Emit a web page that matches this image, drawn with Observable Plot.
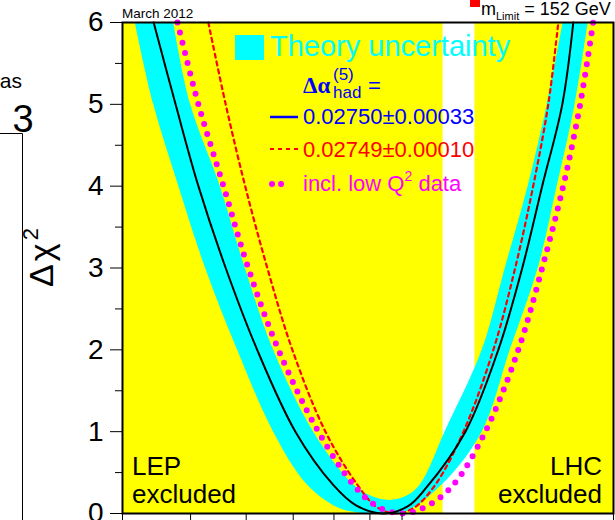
<!DOCTYPE html>
<html>
<head>
<meta charset="utf-8">
<script src="https://cdn.jsdelivr.net/npm/d3@7"></script>
<script src="https://cdn.jsdelivr.net/npm/@observablehq/plot@0.6"></script>
<style>
  html, body { margin: 0; padding: 0; overflow: hidden; background: #fff; }
  #wrap { position: relative; width: 615px; height: 520px; overflow: hidden; }
  #overlay { position: absolute; left: 0; top: 0; pointer-events: none; }
</style>
</head>
<body>
<div id="wrap"></div>
<script>
// ---- data ----
const massTicks = [40, 50, 60, 70, 80, 90, 100, 200];
const chi2Ticks = [0, 1, 2, 3, 4, 5, 6];
const chi2MinorTicks = [0.5, 1.5, 2.5, 3.5, 4.5, 5.5];

const excludedName = ["LEP", "LHC"];
const excludedFrom = [30, 127];
const excludedTo = [114.4, 600];

// theory uncertainty band: lower and upper envelopes of Δχ²
const bandLowerMass = [41.7, 44.3, 48.1, 52.5, 58.3, 65.6, 73.3, 81, 88, 100, 114.1, 130.1, 142.6, 156.3, 166.3, 176.4, 184.1];
const bandLowerChi2 = [6, 5, 4, 3, 2, 1, 0.35, 0.07, 0, 0, 0.35, 1, 2, 3, 4, 5, 6];
const bandUpperMass = [47.3, 50.0, 55.1, 59.8, 65.6, 74.8, 85.3, 90.5, 96, 101.5, 106.2, 115.2, 130.1, 140.3, 151.2, 161.0, 169.6];
const bandUpperChi2 = [6, 5, 4, 3, 2, 1, 0.35, 0.21, 0.16, 0.21, 0.35, 1, 2, 3, 4, 5, 6];

// Δα_had = 0.02750 ± 0.00033 (central fit)
const fitMass = [44.3, 47.6, 51.3, 56.1, 62.2, 70.5, 79.8, 86, 94, 102, 107.9, 123.1, 137.1, 148.3, 158.3, 169.1, 175.3];
const fitChi2 = [6, 5, 4, 3, 2, 1, 0.35, 0.1, 0, 0.09, 0.3, 1, 2, 3, 4, 5, 6];

// Δα_had = 0.02749 ± 0.00010
const narrowMass = [53.0, 56.1, 59.8, 64.3, 69.8, 77.8, 86.4, 92, 98, 104, 111.5, 122.3, 134.9, 144.9, 153.7, 161.5, 166.9];
const narrowChi2 = [6, 5, 4, 3, 2, 1, 0.35, 0.08, 0, 0.07, 0.35, 1, 2, 3, 4, 5, 6];

// incl. low Q² data
const lowQ2Mass = [47.9, 51.3, 55.7, 60.4, 66.7, 76.0, 85.3, 92, 100, 108, 118.3, 131.4, 146.4, 158.3, 169.6, 179.3, 187.1];
const lowQ2Chi2 = [6, 5, 4, 3, 2, 1, 0.35, 0.09, 0, 0.08, 0.35, 1, 2, 3, 4, 5, 6];

// ---- tables ----
const exclRows = excludedName.map((n, i) => ({name: n, from: excludedFrom[i], to: excludedTo[i]}));
const bandRows = bandLowerMass.map((m, i) => ({lm: m, lc: bandLowerChi2[i], um: bandUpperMass[i], uc: bandUpperChi2[i]}));
const toRows = (ms, cs) => ms.map((m, i) => ({m, c: cs[i]}));
const fitRows = toRows(fitMass, fitChi2);
const narrowRows = toRows(narrowMass, narrowChi2);
const lowQ2Rows = toRows(lowQ2Mass, lowQ2Chi2);

const chart = Plot.plot({
  width: 615,
  height: 560,
  marginLeft: 122,
  marginRight: 2,
  marginTop: 22,
  marginBottom: 47,
  style: {fontFamily: "'Liberation Sans', Arial, sans-serif", fontSize: "28px", color: "black", background: "white"},
  x: {type: "log", domain: [40, 200]},
  y: {domain: [0, 6]},
  marks: [
    Plot.rect(exclRows, {x1: "from", x2: "to", fill: "#ffff00", clip: true}),
    Plot.area(bandRows, {x1: "lm", y1: "lc", x2: "um", y2: "uc", fill: "#00ffff", curve: "catmull-rom", clip: true}),
    Plot.line(narrowRows, {x: "m", y: "c", stroke: "#ff0000", strokeWidth: 2.2, strokeDasharray: "4,4", curve: "catmull-rom"}),
    Plot.line(lowQ2Rows, {x: "m", y: "c", stroke: "#ff00ff", strokeWidth: 6, strokeDasharray: "0,10.5", strokeLinecap: "round", curve: "catmull-rom"}),
    Plot.line(fitRows, {x: "m", y: "c", stroke: "black", strokeWidth: 2, curve: "catmull-rom"}),
    Plot.frame({stroke: "black", strokeWidth: 2}),
    Plot.axisY({ticks: chi2Ticks, tickSize: 12, tickPadding: 7, label: null, tickFormat: d => String(d)}),
    Plot.axisY({ticks: chi2MinorTicks, tickSize: 7, label: null, tickFormat: () => ""}),
    Plot.axisX({ticks: massTicks, tickSize: 9, label: null, tickFormat: () => ""})
  ]
});
const wrap = document.getElementById("wrap");
wrap.appendChild(chart);

// ---- annotations / legend overlay ----
const ov = d3.select(wrap).append("svg")
  .attr("id", "overlay").attr("width", 615).attr("height", 520)
  .style("font-family", "'Liberation Sans', Arial, sans-serif");

// neighbouring panel fragment on the left
ov.append("text").attr("x", 22).attr("y", 88).attr("text-anchor", "end").attr("font-size", 21).text("as");
ov.append("text").attr("x", 23).attr("y", 132).attr("text-anchor", "middle").attr("font-size", 38).text("3");
ov.append("path").attr("d", "M0,133.5H22.5V520").attr("fill", "none").attr("stroke", "black").attr("stroke-width", 1);

// y-axis title Δχ²
const yt = ov.append("text").attr("transform", "translate(53,256) rotate(-90)")
  .attr("text-anchor", "middle").attr("font-size", 34).attr("letter-spacing", 3);
yt.append("tspan").text("Δχ");
yt.append("tspan").attr("dy", -15).attr("font-size", 22).text("2");

// header
ov.append("text").attr("x", 122).attr("y", 18).attr("font-size", 13.5).text("March 2012");
ov.append("rect").attr("x", 470).attr("y", 0).attr("width", 10).attr("height", 7).attr("fill", "#ff0000");
const ml = ov.append("text").attr("x", 481).attr("y", 15).attr("font-size", 18);
ml.append("tspan").text("m");
ml.append("tspan").attr("dy", 5).attr("font-size", 11).text("Limit");
ml.append("tspan").attr("dy", -5).text(" = 152 GeV");

// legend
ov.append("rect").attr("x", 235).attr("y", 35).attr("width", 29).attr("height", 25).attr("fill", "#00ffff");
ov.append("text").attr("x", 270).attr("y", 56).attr("font-size", 29).attr("fill", "#00ffff").text("Theory uncertainty");

const blue = "#0000ff";
ov.append("text").attr("x", 303).attr("y", 93).attr("font-size", 23).attr("font-weight", "bold")
  .attr("font-family", "'Liberation Serif', 'Times New Roman', serif").attr("fill", blue).text("Δα");
ov.append("text").attr("x", 333).attr("y", 80).attr("font-size", 17).attr("fill", blue).text("(5)");
ov.append("text").attr("x", 333).attr("y", 98).attr("font-size", 17).attr("fill", blue).text("had");
ov.append("text").attr("x", 368).attr("y", 93).attr("font-size", 22).attr("fill", blue).text("=");

ov.append("line").attr("x1", 270).attr("x2", 298).attr("y1", 117).attr("y2", 117).attr("stroke", blue).attr("stroke-width", 2.5);
ov.append("text").attr("x", 303).attr("y", 124).attr("font-size", 22).attr("fill", blue).text("0.02750±0.00033");

ov.append("line").attr("x1", 270).attr("x2", 298).attr("y1", 149).attr("y2", 149).attr("stroke", "#ff0000").attr("stroke-width", 2.2).attr("stroke-dasharray", "4,4");
ov.append("text").attr("x", 303).attr("y", 157).attr("font-size", 22).attr("fill", "#ff0000").text("0.02749±0.00010");

ov.append("line").attr("x1", 272).attr("x2", 290).attr("y1", 184).attr("y2", 184).attr("stroke", "#ff00ff").attr("stroke-width", 6)
  .attr("stroke-linecap", "round").attr("stroke-dasharray", "0,9");
const lq = ov.append("text").attr("x", 303).attr("y", 191).attr("font-size", 22).attr("fill", "#ff00ff");
lq.append("tspan").text("incl. low Q");
lq.append("tspan").attr("dy", -10).attr("font-size", 14).text("2");
lq.append("tspan").attr("dy", 10).text(" data");

// exclusion labels
exclRows.forEach((r, i) => {
  const left = i === 0;
  const t = ov.append("text").attr("font-size", 26).attr("text-anchor", left ? "start" : "end");
  t.append("tspan").attr("x", left ? 132 : 602).attr("y", 475).text(r.name);
  t.append("tspan").attr("x", left ? 132 : 602).attr("y", 503).text("excluded");
});
</script>
</body>
</html>
